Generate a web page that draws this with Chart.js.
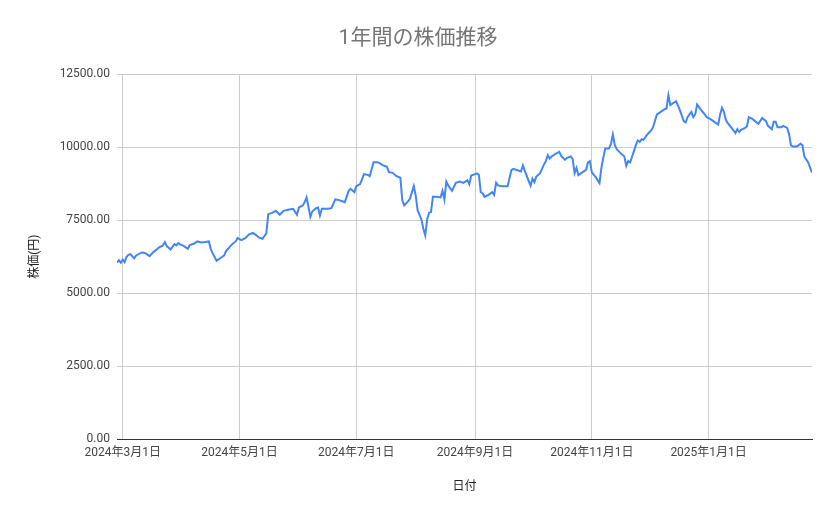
<!DOCTYPE html>
<html><head><meta charset="utf-8">
<script src="https://cdn.jsdelivr.net/npm/chart.js@4.4.1/dist/chart.umd.min.js"></script>
<style>html,body{margin:0;padding:0;background:#fff}#wrap{width:839px;height:519px}</style>
</head><body><div id="wrap"><canvas id="c" width="839" height="519"></canvas></div>
<script>
const chartTitle = "1年間の株価推移";
const xAxisTitle = "日付";
const yAxisTitle = "株価(円)";
const dates = [
"2024-02-27","2024-02-28","2024-02-29","2024-03-01","2024-03-02","2024-03-03","2024-03-04","2024-03-05","2024-03-07","2024-03-08",
"2024-03-11","2024-03-12","2024-03-13","2024-03-15","2024-03-17","2024-03-19","2024-03-20","2024-03-22","2024-03-23","2024-03-24",
"2024-03-26","2024-03-28","2024-03-29","2024-03-30","2024-03-31","2024-04-02","2024-04-04","2024-04-05","2024-04-07","2024-04-09",
"2024-04-11","2024-04-13","2024-04-15","2024-04-16","2024-04-17","2024-04-19","2024-04-22","2024-04-23","2024-04-24","2024-04-25",
"2024-04-27","2024-04-29","2024-04-30","2024-05-02","2024-05-04","2024-05-06","2024-05-08","2024-05-10","2024-05-11","2024-05-13",
"2024-05-15","2024-05-16","2024-05-18","2024-05-20","2024-05-22","2024-05-24","2024-05-27","2024-05-29","2024-05-31","2024-06-01",
"2024-06-03","2024-06-04","2024-06-05","2024-06-06","2024-06-07","2024-06-08","2024-06-10","2024-06-11","2024-06-12","2024-06-13",
"2024-06-16","2024-06-18","2024-06-20","2024-06-22","2024-06-24","2024-06-25","2024-06-27","2024-06-28","2024-06-30","2024-07-01",
"2024-07-03","2024-07-05","2024-07-07","2024-07-08","2024-07-10","2024-07-12","2024-07-14","2024-07-15","2024-07-17","2024-07-18",
"2024-07-20","2024-07-22","2024-07-24","2024-07-25","2024-07-26","2024-07-28","2024-07-29","2024-07-31","2024-08-01","2024-08-02",
"2024-08-04","2024-08-05","2024-08-06","2024-08-07","2024-08-08","2024-08-09","2024-08-10","2024-08-12","2024-08-14","2024-08-15",
"2024-08-16","2024-08-17","2024-08-18","2024-08-20","2024-08-22","2024-08-24","2024-08-26","2024-08-28","2024-08-29","2024-08-30",
"2024-09-01","2024-09-02","2024-09-03","2024-09-04","2024-09-05","2024-09-06","2024-09-08","2024-09-10","2024-09-11","2024-09-12",
"2024-09-13","2024-09-15","2024-09-18","2024-09-20","2024-09-21","2024-09-25","2024-09-26","2024-09-27","2024-09-29","2024-09-30",
"2024-10-01","2024-10-02","2024-10-03","2024-10-05","2024-10-07","2024-10-08","2024-10-09","2024-10-10","2024-10-11","2024-10-13",
"2024-10-15","2024-10-16","2024-10-18","2024-10-19","2024-10-21","2024-10-22","2024-10-23","2024-10-24","2024-10-25","2024-10-27",
"2024-10-29","2024-10-30","2024-10-31","2024-11-01","2024-11-03","2024-11-05","2024-11-06","2024-11-07","2024-11-08","2024-11-10",
"2024-11-11","2024-11-12","2024-11-13","2024-11-14","2024-11-15","2024-11-16","2024-11-18","2024-11-19","2024-11-20","2024-11-21",
"2024-11-23","2024-11-24","2024-11-25","2024-11-26","2024-11-27","2024-11-28","2024-11-30","2024-12-02","2024-12-03","2024-12-05",
"2024-12-07","2024-12-09","2024-12-10","2024-12-11","2024-12-12","2024-12-14","2024-12-15","2024-12-17","2024-12-19","2024-12-20",
"2024-12-21","2024-12-23","2024-12-24","2024-12-25","2024-12-26","2024-12-28","2024-12-30","2024-12-31","2025-01-02","2025-01-04",
"2025-01-06","2025-01-07","2025-01-08","2025-01-09","2025-01-10","2025-01-11","2025-01-13","2025-01-15","2025-01-16","2025-01-17",
"2025-01-18","2025-01-20","2025-01-21","2025-01-22","2025-01-24","2025-01-27","2025-01-29","2025-01-31","2025-02-01","2025-02-03",
"2025-02-04","2025-02-05","2025-02-06","2025-02-08","2025-02-09","2025-02-11","2025-02-12","2025-02-13","2025-02-14","2025-02-16",
"2025-02-18","2025-02-19","2025-02-20","2025-02-22","2025-02-24"
];
const prices = [
6040,6130,6040,6150,6060,6240,6312,6336,6188,6290,
6393,6380,6360,6267,6404,6507,6565,6633,6747,6610,
6496,6678,6633,6712,6667,6610,6517,6644,6689,6770,
6736,6747,6770,6507,6360,6107,6244,6290,6450,6517,
6667,6770,6884,6815,6884,7015,7060,6970,6907,6860,
7044,7705,7750,7819,7682,7819,7865,7887,7682,7933,
8001,8116,8276,7956,7613,7796,7910,7933,7659,7887,
7887,7910,8208,8185,8140,8116,8504,8573,8459,8664,
8733,9075,9052,9007,9486,9486,9418,9373,9326,9144,
9121,9007,8950,8185,8003,8140,8230,8664,8345,7842,
7524,7202,6976,7524,7750,7774,8298,8298,8276,8504,
8208,8824,8688,8504,8778,8824,8778,8870,8733,9030,
9075,9099,9052,8459,8413,8298,8367,8459,8367,8778,
8688,8664,8664,9212,9257,9167,9373,9190,8846,8680,
8920,8800,8990,9110,9407,9521,9727,9612,9681,9771,
9840,9703,9566,9635,9681,9589,9110,9292,9041,9134,
9224,9475,9521,9134,8973,8767,9292,9635,9954,9954,
10114,10433,10069,9932,9863,9795,9681,9360,9521,9475,
9863,10069,10229,10182,10274,10251,10434,10572,10685,11120,
11209,11301,11325,11780,11440,11531,11575,11270,10891,10845,
11027,11209,11027,11120,11463,11278,11120,11027,10959,10867,
10777,11120,11346,11209,10936,10822,10661,10480,10617,10525,
10593,10661,10708,11027,10959,10799,11003,10891,10730,10617,
10867,10867,10685,10685,10730,10661,10456,10069,10023,10023,
10114,10069,9681,9475,9130
];
const xTickDates = ["2024-03-01","2024-05-01","2024-07-01","2024-09-01","2024-11-01","2025-01-01"];
const yTickValues = [0, 2500, 5000, 7500, 10000, 12500];

const FONT = "Roboto, 'Noto Sans CJK JP', sans-serif";
const toTs = s => Date.parse(s + "T00:00:00Z");
const fmtDate = v => { const d = new Date(v); return d.getUTCFullYear() + "年" + (d.getUTCMonth()+1) + "月" + d.getUTCDate() + "日"; };

const points = dates.map((d, i) => ({ x: toTs(d), y: prices[i] }));

new Chart(document.getElementById('c'), {
  type: 'line',
  data: { datasets: [{ data: points, borderColor: '#4285F4', borderWidth: 2, pointRadius: 0, tension: 0, fill: false }] },
  options: {
    responsive: false, animation: false, devicePixelRatio: 1,
    layout: { padding: { left: 24, right: 27, top: 0, bottom: 21 } },
    plugins: {
      legend: { display: false }, tooltip: { enabled: false },
      title: { display: true, text: chartTitle, color: '#757575', font: { family: FONT, size: 21, weight: 'normal' }, padding: { top: 26, bottom: 23 } }
    },
    scales: {
      x: {
        type: 'linear',
        min: toTs(dates[0]), max: toTs(dates[dates.length - 1]),
        afterBuildTicks: a => { a.ticks = xTickDates.map(d => ({ value: toTs(d) })); },
        ticks: { callback: v => fmtDate(v), autoSkip: false, maxRotation: 0, padding: 7, color: '#444', font: { family: FONT, size: 12 } },
        grid: { color: '#cccccc', drawTicks: false },
        border: { display: true, color: '#333333', width: 1 },
        title: { display: true, text: xAxisTitle, color: '#222', font: { family: FONT, size: 12 }, padding: { top: 4, bottom: 4 } },
        afterFit: s => { s.height = 59; }
      },
      y: {
        min: 0, max: 12500,
        afterBuildTicks: a => { a.ticks = yTickValues.map(v => ({ value: v })); },
        ticks: { callback: v => Number(v).toFixed(2), padding: 7, color: '#444', font: { family: FONT, size: 12 } },
        grid: { color: '#cccccc', drawTicks: false },
        border: { display: false },
        title: { display: true, text: yAxisTitle, color: '#222', font: { family: FONT, size: 12 }, padding: { top: 4, bottom: 4 } },
        afterFit: s => { s.width = 93; }
      }
    }
  }
});
</script></body></html>
